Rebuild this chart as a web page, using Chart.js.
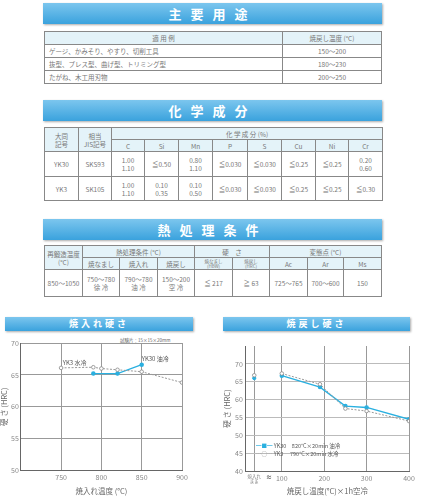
<!DOCTYPE html>
<html><head><meta charset="utf-8">
<script src="https://cdn.jsdelivr.net/npm/chart.js@4"></script>
<style>
body{margin:0;width:425px;height:500px;background:#fff;font-family:"Noto Sans CJK JP",sans-serif;color:#666;position:relative;overflow:hidden}
.hd{position:absolute;height:21px;background:linear-gradient(#7cc6ee,#3aa2dd);color:#fff;font-weight:bold;text-align:center;line-height:21px;font-size:13px;letter-spacing:9px;box-shadow:1px 1px 2px #aaa}
.hs{height:14px;line-height:14px;font-size:9px;letter-spacing:3px}
table{position:absolute;border-collapse:collapse;font-size:6.5px;table-layout:fixed;border:1.5px solid #555}
td{border:1px solid #888;text-align:center;padding:0;line-height:8px;color:#777}
.h td,td.h{background:#e4f3f9}
.l{text-align:left;padding-left:4px}
.box{position:absolute}
</style></head><body>
<div class="hd" style="left:43px;top:3px;width:339px">主要用途</div>
<table style="left:44px;top:31px;width:337px">
<colgroup><col style="width:238px"><col style="width:99px"></colgroup>
<tr class="h" style="height:13px"><td>適 用 例</td><td>焼戻し温度 (°C)</td></tr>
<tr style="height:13px"><td class="l">ゲージ、かみそり、やすり、切削工具</td><td>150～200</td></tr>
<tr style="height:13px"><td class="l">抜型、プレス型、曲げ型、トリミング型</td><td>180～230</td></tr>
<tr style="height:13px"><td class="l">たがね、木工用刃物</td><td>200～250</td></tr>
</table>
<div class="hd" style="left:43px;top:100px;width:339px">化学成分</div>
<table style="left:44px;top:127px;width:338px">
<colgroup><col style="width:34px"><col style="width:33px"><col style="width:33px"><col style="width:34px"><col style="width:34px"><col style="width:35px"><col style="width:34px"><col style="width:34px"><col style="width:33px"><col style="width:34px"></colgroup>
<tr class="h" style="height:12px"><td rowspan="2">大同<br>記号</td><td rowspan="2">相当<br>JIS記号</td><td colspan="8">化 学 成 分 (%)</td></tr>
<tr class="h" style="height:12px"><td>C</td><td>Si</td><td>Mn</td><td>P</td><td>S</td><td>Cu</td><td>Ni</td><td>Cr</td></tr>
<tr style="height:25px"><td>YK30</td><td>SKS93</td><td>1.00<br>1.10</td><td>≦0.50</td><td>0.80<br>1.10</td><td>≦0.030</td><td>≦0.030</td><td>≦0.25</td><td>≦0.25</td><td>0.20<br>0.60</td></tr>
<tr style="height:24px"><td>YK3</td><td>SK105</td><td>1.00<br>1.10</td><td>0.10<br>0.35</td><td>0.10<br>0.50</td><td>≦0.030</td><td>≦0.030</td><td>≦0.25</td><td>≦0.25</td><td>≦0.30</td></tr>
</table>
<div class="hd" style="left:43px;top:219px;width:339px">熱処理条件</div>
<table style="left:44px;top:245px;width:337px">
<colgroup><col style="width:38px"><col style="width:37px"><col style="width:38px"><col style="width:37px"><col style="width:38px"><col style="width:37px"><col style="width:38px"><col style="width:36px"><col style="width:38px"></colgroup>
<tr class="h" style="height:12px"><td rowspan="2">再鍛造温度<br>(°C)</td><td colspan="3">熱処理条件 (°C)</td><td colspan="2">硬　さ</td><td colspan="3">変態点 (°C)</td></tr>
<tr class="h" style="height:12px"><td>焼なまし</td><td>焼入れ</td><td>焼戻し</td><td style="font-size:4.5px;line-height:5px">焼なまし<br>(HBW)</td><td style="font-size:4.5px;line-height:5px">焼戻し<br>(HRC)</td><td>Ac</td><td>Ar</td><td>Ms</td></tr>
<tr style="height:27px"><td>850～1050</td><td>750～780<br>徐 冷</td><td>790～780<br>油 冷</td><td>150～200<br>空 冷</td><td>≦ 217</td><td>≧ 63</td><td>725～765</td><td>700～600</td><td>150</td></tr>
</table>
<div class="hd hs" style="left:5px;top:317px;width:188px">焼入れ硬さ</div>
<div class="hd hs" style="left:223px;top:317px;width:187px">焼戻し硬さ</div>
<div class="box" style="left:120px;top:337px;font-size:4.5px;color:#666">試験片：15×15×20mm</div>
<div class="box" style="left:0px;top:335px;width:215px;height:165px"><canvas id="c1"></canvas></div>
<div class="box" style="left:215px;top:335px;width:210px;height:165px"><canvas id="c2"></canvas></div>
<div class="box" style="left:256px;top:442px;font-size:5.5px;color:#555;line-height:8px">
<div><span style="color:#2ab0e0">━■━</span> YK30　820°C×20min 油冷</div>
<div><span style="color:#999">┄○┄</span> YK3　 790°C×20min 水冷</div></div>
<div class="box" style="left:266px;top:472px;font-size:6px;color:#333">≈</div>
<script>
const quenchTemps=[750,790,800,820,850,900];
const quenchYK3=[66.1,66.2,66.0,65.8,65.5,63.8];
const quenchTempsYK30=[790,820,850];
const quenchYK30=[65.2,65.2,66.6];
const temperTemps=[100,190,250,300,400];
const temperYK30=[66.7,63.5,58.2,57.8,54.5];
const temperYK3=[67.3,64.3,57.5,56.8,54.0];
const asQuenchedX=35;
const asQuenchedYK30=66.0;
const asQuenchedYK3=66.8;
const blue='#2ab0e0', gray='#999';
const tf={size:7,family:'Noto Sans CJK JP'};
const lbl=[{id:'lbl',afterDatasetsDraw(c){const x=c.scales.x,y=c.scales.y,g=c.ctx;g.save();g.font='6px "Noto Sans CJK JP"';g.fillStyle='#555';g.fillText('YK3 水冷',x.getPixelForValue(752),y.getPixelForValue(66.6));g.fillText('YK30 油冷',x.getPixelForValue(850),y.getPixelForValue(67.2));g.restore();}}];
new Chart(document.getElementById('c1'),{type:'scatter',data:{datasets:[
{data:quenchTemps.map((t,i)=>({x:t,y:quenchYK3[i]})),showLine:true,borderColor:gray,borderDash:[2,1.5],borderWidth:1,pointRadius:1.8,pointBackgroundColor:'#fff',pointBorderColor:'#888',pointBorderWidth:0.8},
{data:quenchTempsYK30.map((t,i)=>({x:t,y:quenchYK30[i]})),showLine:true,borderColor:blue,borderWidth:1.3,pointRadius:1.6,pointBackgroundColor:blue,pointBorderColor:blue}]},
options:{animation:false,responsive:true,maintainAspectRatio:false,layout:{padding:{left:0,right:33,top:8,bottom:0}},plugins:{legend:{display:false},tooltip:{enabled:false}},
scales:{x:{min:700,max:900,ticks:{stepSize:50,font:tf,color:'#888',callback:v=>v==700?'':v},grid:{color:'#999',drawTicks:false},border:{color:'#666'},title:{display:true,text:'焼入れ温度 (°C)',font:{size:7.5,family:'Noto Sans CJK JP'},color:'#666',padding:{top:2}}},
y:{min:50,max:70,ticks:{stepSize:5,font:tf,color:'#888',padding:2},grid:{color:'#999',drawTicks:false},border:{color:'#666'},title:{display:true,text:'硬 さ (HRC)',font:{size:7.5,family:'Noto Sans CJK JP'},color:'#666',padding:0}}}},plugins:lbl});
new Chart(document.getElementById('c2'),{type:'scatter',data:{datasets:[
{data:temperTemps.map((t,i)=>({x:t,y:temperYK3[i]})),showLine:true,borderColor:gray,borderDash:[2,1.5],borderWidth:1,pointRadius:1.8,pointBackgroundColor:'#fff',pointBorderColor:'#888',pointBorderWidth:0.8},
{data:temperTemps.map((t,i)=>({x:t,y:temperYK30[i]})),showLine:true,borderColor:blue,borderWidth:1.3,pointRadius:1.6,pointBackgroundColor:blue,pointBorderColor:blue},
{data:[{x:asQuenchedX,y:asQuenchedYK3}],pointRadius:1.8,pointBackgroundColor:'#fff',pointBorderColor:'#888',pointBorderWidth:0.8},
{data:[{x:asQuenchedX,y:asQuenchedYK30}],pointRadius:1.6,pointBackgroundColor:blue,pointBorderColor:blue}]},
options:{animation:false,responsive:true,maintainAspectRatio:false,layout:{padding:{left:8,right:16,top:11,bottom:0}},plugins:{legend:{display:false},tooltip:{enabled:false}},
scales:{x:{type:'linear',min:15,max:400,afterBuildTicks:a=>{a.ticks=[35,100,200,300,400].map(v=>({value:v}));},ticks:{font:c=>({size:c.tick&&c.tick.value==35?4.5:7,family:'Noto Sans CJK JP',lineHeight:1.1}),color:'#888',callback:v=>v==35?['焼入れ','まま']:v},grid:{color:'#999',drawTicks:false},border:{color:'#666'},title:{display:true,text:'焼戻し温度(°C)×1h空冷',font:{size:7.5,family:'Noto Sans CJK JP'},color:'#666',padding:{top:0}}},
y:{min:40,max:75,afterBuildTicks:a=>{a.ticks=[40,45,50,55,60,65,70].map(v=>({value:v}));},ticks:{font:tf,color:'#888',padding:3},grid:{color:'#bbb',drawTicks:false},border:{color:'#666'},title:{display:true,text:'硬 さ (HRC)',font:{size:7.5,family:'Noto Sans CJK JP'},color:'#666',padding:0}}}}});
</script>
</body></html>
